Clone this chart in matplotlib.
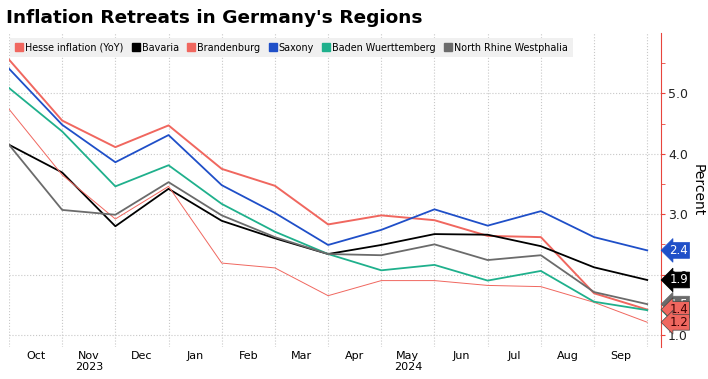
import numpy as np
import matplotlib.pyplot as plt
from matplotlib.lines import Line2D

# Data (13 monthly readings, Sep 2023 .. Sep 2024)
months = ['Oct', 'Nov\n2023', 'Dec', 'Jan', 'Feb', 'Mar', 'Apr', 'May\n2024',
          'Jun', 'Jul', 'Aug', 'Sep']
hesse = [5.56, 4.55, 4.11, 4.47, 3.75, 3.47, 2.83, 2.98, 2.90, 2.64, 2.62, 1.69, 1.42]
bavaria = [4.15, 3.69, 2.80, 3.42, 2.89, 2.60, 2.34, 2.49, 2.67, 2.66, 2.47, 2.12, 1.91]
brandenburg = [4.74, 3.65, 2.92, 3.46, 2.19, 2.11, 1.65, 1.90, 1.90, 1.82, 1.80, 1.54, 1.21]
saxony = [5.41, 4.48, 3.86, 4.31, 3.48, 3.02, 2.49, 2.74, 3.08, 2.81, 3.05, 2.62, 2.40]
baden = [5.09, 4.37, 3.46, 3.81, 3.17, 2.71, 2.34, 2.07, 2.16, 1.90, 2.06, 1.55, 1.41]
nrw = [4.15, 3.07, 2.99, 3.53, 2.98, 2.62, 2.34, 2.32, 2.50, 2.24, 2.32, 1.71, 1.51]

salmon = '#f0675f'
series = [
    ('Hesse inflation (YoY)', hesse, salmon, 1.4),
    ('Bavaria', bavaria, '#000000', 1.3),
    ('Brandenburg', brandenburg, salmon, 0.7),
    ('Saxony', saxony, '#1f4fc8', 1.3),
    ('Baden Wuerttemberg', baden, '#1fb08c', 1.3),
    ('North Rhine Westphalia', nrw, '#6b6b6b', 1.3),
]

x = np.arange(len(hesse))

fig = plt.figure(figsize=(7.08, 3.79), dpi=100)
ax = fig.add_axes([0.0127, 0.0844, 0.921, 0.8285])

for name, vals, col, lw in series:
    ax.plot(x, vals, color=col, lw=lw, zorder=2)

ax.set_xlim(0, 12.26)
ax.set_ylim(0.8, 6.0)

# grid
ax.set_xticks(x, minor=False)
ax.set_xticklabels([])
ax.tick_params(axis='x', length=0)
ax.set_xticks(x[:-1] + 0.5, minor=True)
ax.set_xticklabels(months, minor=True, fontsize=8, linespacing=1.1)
ax.tick_params(axis='x', which='minor', length=0, pad=3)
ax.grid(True, axis='x', which='major', color='#c8c8c8', ls=':', lw=0.8)
ax.grid(True, axis='y', which='major', color='#c8c8c8', ls=':', lw=0.8)

ax.yaxis.tick_right()
ax.yaxis.set_label_position('right')
ax.set_yticks([1, 2, 3, 4, 5])
ax.set_yticklabels(['1.0', '2.0', '3.0', '4.0', '5.0'], fontsize=9)
ax.set_yticks(np.arange(1.5, 6.0, 1.0), minor=True)
ax.tick_params(axis='y', which='both', colors='#e8453c', length=3, labelcolor='#222222', pad=2)
ax.set_ylabel('Percent', rotation=-90, labelpad=12, fontsize=10)

for s in ['top', 'left', 'bottom']:
    ax.spines[s].set_visible(False)
ax.spines['right'].set_color('#e8453c')

# last value tags
tags = [
    (nrw[-1], '#6b6b6b', 'white'),
    (baden[-1], '#1fb08c', 'white'),
    (hesse[-1], salmon, '#3a0000'),
    (brandenburg[-1], salmon, '#3a0000'),
    (saxony[-1], '#1f4fc8', 'white'),
    (bavaria[-1], '#000000', 'white'),
]
for v, bg, fg in tags:
    ax.annotate(f'{v:.1f}', xy=(1.0, v), xycoords=('axes fraction', 'data'),
                xytext=(6, 0), textcoords='offset points', va='center', ha='left',
                fontsize=8.5, color=fg, annotation_clip=False, zorder=5,
                bbox=dict(boxstyle='larrow,pad=0.12', fc=bg, ec='#444444' if bg == salmon else bg, lw=0.5))

# legend
handles = [Line2D([], [], marker='s', ls='', color=c, markersize=5.5)
           for _, _, c, _ in series]
leg = ax.legend(handles, [s[0] for s in series], loc='upper left',
                bbox_to_anchor=(-0.006, 1.0), ncol=6, fontsize=6.9,
                frameon=True, fancybox=False, handletextpad=0.1,
                columnspacing=0.8, borderpad=0.5, handlelength=1.0)
leg.get_frame().set_facecolor('#f0f0f0')
leg.get_frame().set_edgecolor('none')
leg.get_frame().set_alpha(1)

fig.text(0.008, 0.952, "Inflation Retreats in Germany's Regions", fontsize=13.3,
         fontweight='bold', va='center', ha='left')

fig.savefig('out.png', dpi=100)
